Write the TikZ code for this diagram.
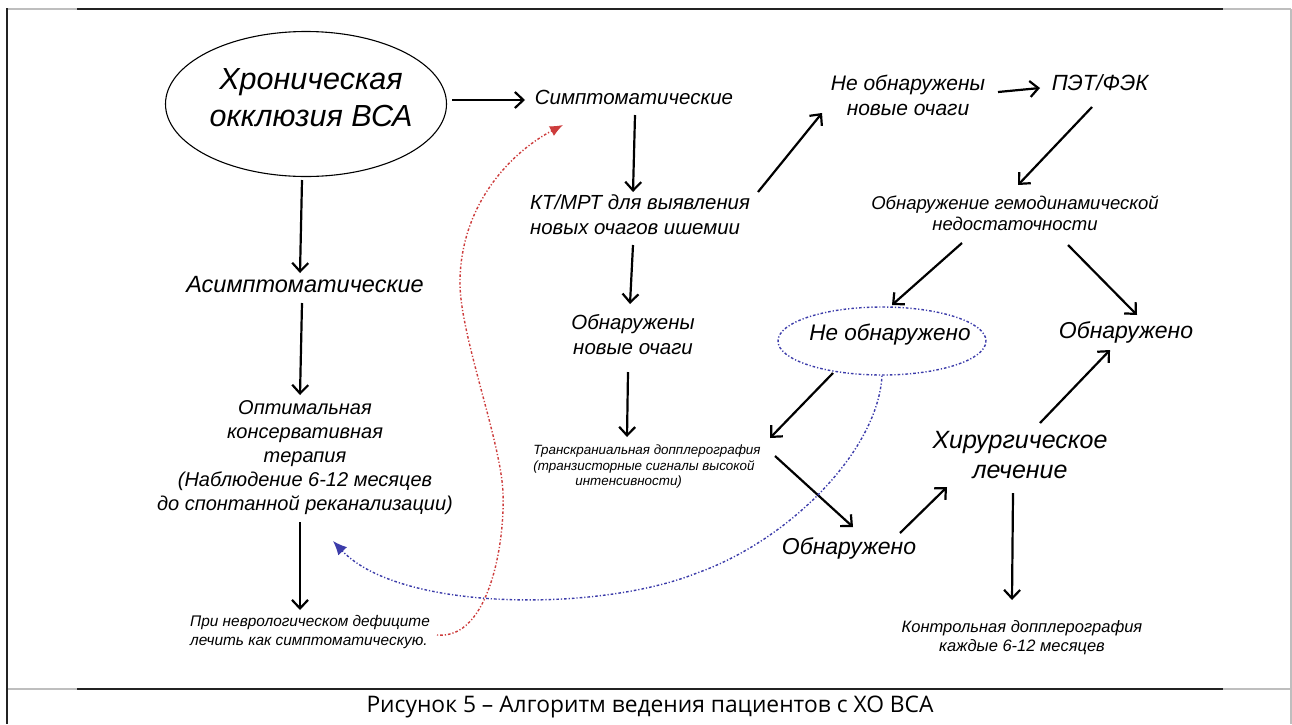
\documentclass[tikz,border=0pt]{standalone}
\usepackage{fontspec}
\setmainfont{Liberation Sans}
\newfontfamily\capfont{Open Sans}
\usetikzlibrary{arrows.meta,shapes.geometric}
\definecolor{dred}{RGB}{205,60,60}
\definecolor{dblue}{RGB}{60,60,170}
\definecolor{framedark}{RGB}{35,35,35}
\definecolor{framelight}{RGB}{190,190,190}
\newcommand{\fsz}[2]{\fontsize{#1}{#2}\selectfont}
\begin{document}
\begin{tikzpicture}[x=1pt,y=-1pt,
  lbl/.style={inner sep=0pt, align=center},
  arr/.style={line width=2.2pt, -{Straight Barb[length=8.5pt,width=16pt]}},
  dotline/.style={line width=1.4pt, dash pattern=on 1.2pt off 2pt on 2.6pt off 2pt},
  frmd/.style={line width=2.5pt, color=framedark},
  frml/.style={line width=1.5pt, color=framelight}
]
\useasboundingbox (0,0) rectangle (1292,724);
\fill[white] (0,0) rectangle (1292,724);
% frame
\coordinate (fTL) at (7,9);
\coordinate (fTR) at (1291,9);
\coordinate (fBL) at (7,724);
\coordinate (fBR) at (1291,724);
\coordinate (sL) at (7,689);
\coordinate (sR) at (1291,689);
\draw[frml] (fTL) -- (fTR);
\draw[frml] (sL) -- (sR);
\draw[frml] (fTR) -- (fBR);
\draw[frmd] ([xshift=70pt]fTL) -- ([xshift=-68pt]fTR);
\draw[frmd] ([xshift=70pt]sL) -- ([xshift=-68pt]sR);
\draw[frmd] ([yshift=1pt]fTL) -- (fBL);

% nodes
\node[draw, ellipse, line width=1.1pt, minimum width=281pt, minimum height=145pt, inner sep=0pt] (occl) at (306,104) {};
\node[lbl, font=\itshape\fsz{30.5}{37}] (occlt) at (311,98) {Хроническая\\окклюзия ВСА};
\node[lbl, font=\itshape\fsz{20.5}{26}] (sym) at (634,97) {Симптоматические};
\node[lbl, font=\itshape\fsz{23.5}{28}] (asym) at (305,285) {Асимптоматические};
\node[lbl, font=\itshape\fsz{20}{24}] (opt) at (305,458) {Оптимальная\\консервативная\\терапия\\(Наблюдение 6-12 месяцев\\до спонтанной реканализации)};
\node[lbl, align=left, font=\itshape\fsz{15.4}{19}] (nevr) at (310,632) {При неврологическом дефиците\\лечить как симптоматическую.};
\node[lbl, align=left, font=\itshape\fsz{20.4}{25}] (kt) at (640,215) {КТ/МРТ для выявления\\новых очагов ишемии};
\node[lbl, font=\itshape\fsz{21}{25}] (neob) at (908,95) {Не обнаружены\\новые очаги};
\node[lbl, font=\itshape\fsz{22}{25}] (pet) at (1100,83) {ПЭТ/ФЭК};
\node[lbl, font=\itshape\fsz{18.5}{21}] (gemo) at (1015,213) {Обнаружение гемодинамической\\недостаточности};
\node[draw=dblue, dotline, ellipse, minimum width=208pt, minimum height=68pt, inner sep=0pt] (neob2) at (882,341) {};
\node[lbl, font=\itshape\fsz{22.5}{26}] (neob2t) at (890,335) {Не обнаружено};
\node[lbl, font=\itshape\fsz{23}{26}] (obnr) at (1126,332) {Обнаружено};
\node[lbl, font=\itshape\fsz{20.5}{25}] (obnnew) at (633,335) {Обнаружены\\новые очаги};
\node[lbl, align=left, font=\itshape\fsz{13.4}{15.5}] (tcd) at (647,467) {Транскраниальная допплерография\\(транзисторные сигналы высокой\\\hspace*{42pt}интенсивности)};
\node[lbl, font=\itshape\fsz{23}{26}] (obnb) at (849,548) {Обнаружено};
\node[lbl, font=\itshape\fsz{25}{30}] (hir) at (1020,455) {Хирургическое\\лечение};
\node[lbl, font=\itshape\fsz{16.5}{19}] (ctrl) at (1022,638) {Контрольная допплерография\\каждые 6-12 месяцев};
\node[lbl, font=\capfont\fsz{22.8}{26}] (cap) at (650,707) {Рисунок 5 – Алгоритм ведения пациентов с ХО ВСА};

% arrows
\draw[arr] ([shift={(-4,76)}]occl.center) -- ([shift={(-5,-12)}]asym.center);
\draw[arr] ([shift={(-3,18)}]asym.center) -- ([shift={(-5,-63)}]opt.center);
\draw[arr] ([shift={(-5,64)}]opt.center) -- ([shift={(-10,-22)}]nevr.center);
\draw[arr] ([shift={(146,-4)}]occl.center) -- ([shift={(-109,3)}]sym.center);
\draw[arr] ([shift={(1,18)}]sym.center) -- ([shift={(-7,-23)}]kt.center);
\draw[arr] ([shift={(-7,30)}]kt.center) -- ([shift={(-3,-31)}]obnnew.center);
\draw[arr] ([shift={(-5,37)}]obnnew.center) -- ([shift={(-20,-30)}]tcd.center);
\draw[arr] ([shift={(118,-23)}]kt.center) -- ([shift={(-86,18)}]neob.center);
\draw[arr] ([shift={(90,-3)}]neob.center) -- ([shift={(-60,5)}]pet.center);
\draw[arr] ([shift={(-8,24)}]pet.center) -- ([shift={(3,-28)}]gemo.center);
\draw[arr] ([shift={(-53,30)}]gemo.center) -- ([shift={(10,-36)}]neob2.center);
\draw[arr] ([shift={(53,32)}]gemo.center) -- ([shift={(11,-17)}]obnr.center);
\draw[arr] ([shift={(-49,32)}]neob2.center) -- ([shift={(123,-29)}]tcd.center);
\draw[arr] ([shift={(128,-11)}]tcd.center) -- ([shift={(4,-21)}]obnb.center);
\draw[arr] ([shift={(51,-15)}]obnb.center) -- ([shift={(-73,32)}]hir.center);
\draw[arr] ([shift={(20,-32)}]hir.center) -- ([shift={(-16,18)}]obnr.center);
\draw[arr] ([shift={(-7,38)}]hir.center) -- ([shift={(-10,-38)}]ctrl.center);

% red dotted curve
\coordinate (rs) at ([shift={(127,3)}]nevr.center);
\coordinate (re) at ([shift={(-71,28)}]sym.center);
\draw[dotline, color=dred, -{Latex[length=13pt,width=11pt]}]
  (rs) .. controls (490,640) and (505,540) .. (503,493)
       .. controls (501,440) and (458,330) .. (460,279)
       .. controls (462,200) and (515,150) .. (re);

% blue dotted curve
\coordinate (be) at ([shift={(23,-91)}]nevr.center);
\draw[dotline, color=dblue, -{Latex[length=14pt,width=12pt]}]
  (neob2.south) .. controls (878,450) and (790,540) .. (697,573)
       .. controls (600,612) and (400,612) .. (be);
\end{tikzpicture}
\end{document}
